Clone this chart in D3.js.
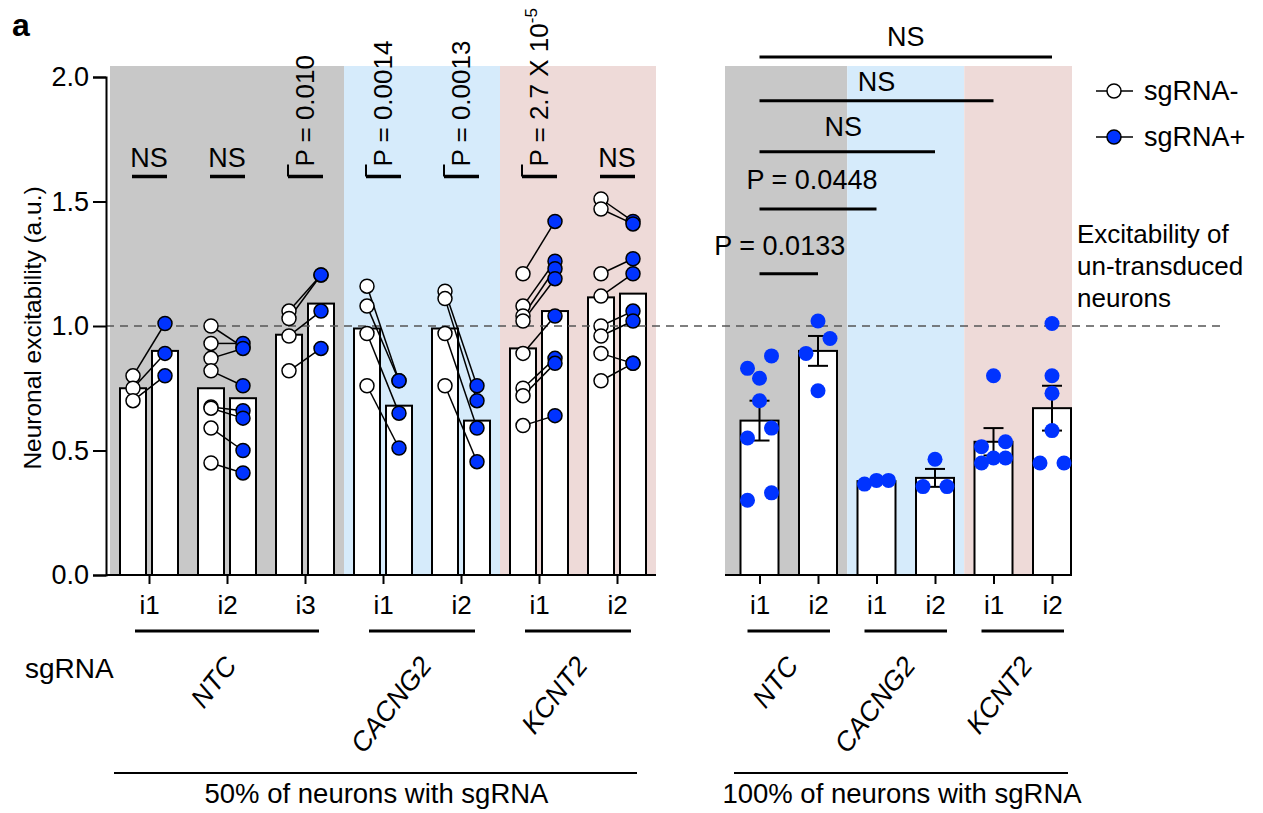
<!DOCTYPE html>
<html>
<head>
<meta charset="utf-8">
<script src="https://cdn.jsdelivr.net/npm/d3@7"></script>
<style>
  body { margin: 0; background: #fff; }
  svg { font-family: "Liberation Sans", Arial, sans-serif; }
</style>
</head>
<body>
<div class="chartBox"></div>
<script>
// ---- data ----
var leftTicks = ["i1", "i2", "i3", "i1", "i2", "i1", "i2"];
var leftGenes = ["NTC", "NTC", "NTC", "CACNG2", "CACNG2", "KCNT2", "KCNT2"];
// paired cultures: sgRNA- value and sgRNA+ value at the same index
var leftMinus = [
  [0.80, 0.75, 0.70],
  [1.00, 0.93, 0.87, 0.82, 0.675, 0.67, 0.59, 0.45],
  [1.06, 1.03, 0.96, 0.82],
  [1.16, 1.08, 0.97, 0.76],
  [1.14, 1.11, 0.97, 0.76],
  [1.21, 1.08, 1.04, 1.02, 0.89, 0.75, 0.72, 0.60],
  [1.51, 1.47, 1.21, 1.12, 1.00, 0.96, 0.89, 0.78]
];
var leftPlus = [
  [1.01, 0.89, 0.80],
  [0.915, 0.93, 0.91, 0.76, 0.66, 0.63, 0.50, 0.41],
  [1.205, 1.205, 1.06, 0.91],
  [0.78, 0.78, 0.65, 0.51],
  [0.76, 0.70, 0.59, 0.455],
  [1.42, 1.26, 1.23, 1.19, 1.04, 0.87, 0.85, 0.64],
  [1.42, 1.41, 1.27, 1.21, 1.06, 1.02, 0.85, 0.85]
];
var leftMinusMean = [0.75, 0.75, 0.965, 0.99, 0.99, 0.91, 1.115];
var leftPlusMean = [0.90, 0.71, 1.09, 0.68, 0.62, 1.06, 1.13];
var leftStats = ["NS", "NS", "P = 0.010", "P = 0.0014", "P = 0.0013", "P = 2.7 X 10^-5", "NS"];

var rightTicks = ["i1", "i2", "i1", "i2", "i1", "i2"];
var rightGenes = ["NTC", "NTC", "CACNG2", "CACNG2", "KCNT2", "KCNT2"];
var rightValues = [
  [0.88, 0.83, 0.79, 0.70, 0.59, 0.55, 0.33, 0.30],
  [1.02, 0.95, 0.89, 0.74],
  [0.38, 0.38, 0.365],
  [0.465, 0.355, 0.355],
  [0.80, 0.535, 0.515, 0.47, 0.47, 0.45],
  [1.01, 0.80, 0.73, 0.58, 0.45, 0.45]
];
var rightMean = [0.62, 0.90, 0.377, 0.39, 0.535, 0.67];
var rightSem = [0.08, 0.06, 0.005, 0.036, 0.055, 0.09];
// comparisons against NTC i1
var rightCompTo = [1, 2, 3, 4, 5];
var rightCompLabels = ["P = 0.0133", "P = 0.0448", "NS", "NS", "NS"];

var yTicks = [0, 0.5, 1.0, 1.5, 2.0];
var legendLabels = ["sgRNA-", "sgRNA+"];
var noteLines = ["Excitability of", "un-transduced", "neurons"];
var panelTitles = ["50% of neurons with sgRNA", "100% of neurons with sgRNA"];

/**
* Chart module. Draws both panels, the brackets and the legend.
**/
var Chart = (function(){
  var svg, width = 1263, height = 813;
  var blue = "#0033ff", fontSize = 27;
  var bandColor = { "NTC": "#c8c8c8", "CACNG2": "#d6ebfb", "KCNT2": "#eedad8" };
  var bandTop = 66, axisX = 106;
  var leftX0 = 110, leftX1 = 656, rightX0 = 725, rightX1 = 1072;

  var y = d3.scaleLinear().domain([0, 2]).range([575, 77]);
  var xL = d3.scalePoint().domain(d3.range(leftTicks.length)).range([149, 617]);
  var xR = d3.scalePoint().domain(d3.range(rightTicks.length)).range([759.5, 1052]);

  /**
  * Collapse runs of the same gene into {gene, first, last}
  **/
  var groupsOf = function(genes){
    var out = [];
    genes.forEach(function(g, i){
      if(out.length && out[out.length - 1].gene == g) out[out.length - 1].last = i;
      else out.push({ gene: g, first: i, last: i });
    });
    return out;
  }

  /**
  * Prism-like scatter: values within one dot of each other share a row
  * and get spread sideways around the bar centre.
  **/
  var spreadPoints = function(values, cx){
    var binPx = 16, lane = 12, bins = [], cur = null, out = [];
    values.slice().sort(d3.descending).forEach(function(v){
      if(cur && y(v) - y(cur[0]) <= binPx) cur.push(v);
      else { cur = [v]; bins.push(cur); }
    });
    bins.forEach(function(bin){
      var asc = bin.slice().sort(d3.ascending), n = asc.length;
      asc.forEach(function(v, i){
        var off = n == 2 ? (i == 0 ? -lane : lane) : (i - (n - 1) / 2) * lane;
        out.push({ v: v, x: cx + off });
      });
    });
    return out;
  }

  var drawBands = function(groups, x, x0, x1){
    groups.forEach(function(g, k){
      var a = k == 0 ? x0 : (x(g.first) + x(groups[k - 1].last)) / 2;
      var b = k == groups.length - 1 ? x1 : (x(g.last) + x(groups[k + 1].first)) / 2;
      svg.append("rect")
        .attr("x", a).attr("y", bandTop)
        .attr("width", b - a).attr("height", y(0) - bandTop)
        .attr("fill", bandColor[g.gene]);
    });
  }

  /**
  * x axis pieces under a panel: baseline, ticks, i-labels,
  * group underline and rotated gene name
  **/
  var drawBottom = function(groups, x, ticks, x0, x1, pad){
    svg.append("line")
      .attr("x1", x0).attr("x2", x1).attr("y1", y(0)).attr("y2", y(0))
      .attr("stroke", "#000").attr("stroke-width", 2);

    var axis = d3.axisBottom(x).tickSize(9).tickSizeOuter(0).tickPadding(12)
      .tickFormat(function(i){ return ticks[i]; });
    var g = svg.append("g").attr("transform", "translate(0," + y(0) + ")").call(axis);
    g.select(".domain").remove();
    g.selectAll("line").attr("stroke-width", 2);
    g.selectAll("text").attr("font-size", 26).attr("font-family", "Liberation Sans, Arial");

    groups.forEach(function(gr){
      svg.append("line")
        .attr("x1", x(gr.first) - pad).attr("x2", x(gr.last) + pad)
        .attr("y1", 631).attr("y2", 631)
        .attr("stroke", "#000").attr("stroke-width", 3);
      var mid = (x(gr.first) + x(gr.last)) / 2;
      svg.append("text")
        .attr("transform", "translate(" + (mid + 11) + ",666) rotate(-52)")
        .attr("text-anchor", "end")
        .attr("font-style", "italic")
        .attr("font-size", 27)
        .text(gr.gene);
    });
  }

  var drawLeft = function(){
    var groups = groupsOf(leftGenes);
    drawBands(groups, xL, leftX0, leftX1);

    var bw = 26;
    leftTicks.forEach(function(t, i){
      [[leftMinusMean[i], -29], [leftPlusMean[i], 3]].forEach(function(b){
        svg.append("rect")
          .attr("x", xL(i) + b[1]).attr("y", y(b[0]))
          .attr("width", bw).attr("height", y(0) - y(b[0]))
          .attr("fill", "#fff").attr("stroke", "#000").attr("stroke-width", 2);
      });
    });
    drawBottom(groups, xL, leftTicks, axisX, leftX1, 14);
  }

  var drawLeftPoints = function(){
    leftTicks.forEach(function(t, i){
      var xm = xL(i) - 16, xp = xL(i) + 16;
      var g = svg.append("g");
      g.selectAll("line.pair").data(leftMinus[i]).enter().append("line")
        .attr("x1", xm).attr("y1", function(d){ return y(d); })
        .attr("x2", xp).attr("y2", function(d, j){ return y(leftPlus[i][j]); })
        .attr("stroke", "#000").attr("stroke-width", 1.5);
      g.selectAll("circle.minus").data(leftMinus[i]).enter().append("circle")
        .attr("cx", xm).attr("cy", function(d){ return y(d); }).attr("r", 7)
        .attr("fill", "#fff").attr("stroke", "#000").attr("stroke-width", 1.5);
      g.selectAll("circle.plus").data(leftPlus[i]).enter().append("circle")
        .attr("cx", xp).attr("cy", function(d){ return y(d); }).attr("r", 7)
        .attr("fill", blue).attr("stroke", "#000").attr("stroke-width", 1.5);
    });
  }

  /**
  * Per-pair statistics above the left panel
  **/
  var drawLeftStats = function(){
    var ly = y(1.6);
    leftStats.forEach(function(s, i){
      var c = xL(i);
      svg.append("line")
        .attr("x1", c - 17).attr("x2", c + 18).attr("y1", ly).attr("y2", ly)
        .attr("stroke", "#000").attr("stroke-width", 3.5);
      if(s == "NS"){
        svg.append("text")
          .attr("x", c).attr("y", ly - 10)
          .attr("text-anchor", "middle").attr("font-size", fontSize)
          .text(s);
        return;
      }
      svg.append("line")
        .attr("x1", c - 17).attr("x2", c - 17).attr("y1", ly).attr("y2", ly - 12)
        .attr("stroke", "#000").attr("stroke-width", 2);
      var parts = s.split("^");
      var txt = svg.append("text")
        .attr("transform", "translate(" + (c + 9) + "," + (ly - 10) + ") rotate(-90)")
        .attr("font-size", 26)
        .text(parts[0]);
      if(parts[1]){
        txt.append("tspan").attr("dy", -11).attr("font-size", 17).text(parts[1]);
      }
    });
  }

  var drawRight = function(){
    var groups = groupsOf(rightGenes);
    drawBands(groups, xR, rightX0, rightX1);

    var bw = 38;
    rightTicks.forEach(function(t, i){
      var c = xR(i);
      svg.append("rect")
        .attr("x", c - bw / 2).attr("y", y(rightMean[i]))
        .attr("width", bw).attr("height", y(0) - y(rightMean[i]))
        .attr("fill", "#fff").attr("stroke", "#000").attr("stroke-width", 2);
    });
    drawBottom(groups, xR, rightTicks, rightX0, rightX1, 12);
  }

  var drawRightPoints = function(){
    var cap = 10;
    rightTicks.forEach(function(t, i){
      var c = xR(i), lo = y(rightMean[i] - rightSem[i]), hi = y(rightMean[i] + rightSem[i]);
      var eb = svg.append("g").attr("stroke", "#000").attr("stroke-width", 2);
      eb.append("line").attr("x1", c).attr("x2", c).attr("y1", lo).attr("y2", hi);
      eb.append("line").attr("x1", c - cap).attr("x2", c + cap).attr("y1", lo).attr("y2", lo);
      eb.append("line").attr("x1", c - cap).attr("x2", c + cap).attr("y1", hi).attr("y2", hi);

      svg.append("g").selectAll("circle").data(spreadPoints(rightValues[i], c))
        .enter().append("circle")
        .attr("cx", function(d){ return d.x; })
        .attr("cy", function(d){ return y(d.v); })
        .attr("r", 7.5)
        .attr("fill", blue);
    });
  }

  /**
  * Brackets comparing NTC i1 to the other right-hand bars
  **/
  var drawRightStats = function(){
    var levels = [1.21, 1.47, 1.70, 1.905, 2.08];
    var gaps = [19, 20, 16, 10, 11], shift = [-9, -6, -4, 0, 0];
    rightCompTo.forEach(function(j, k){
      var ly = y(levels[k]), a = xR(0), b = xR(j);
      svg.append("line")
        .attr("x1", a).attr("x2", b).attr("y1", ly).attr("y2", ly)
        .attr("stroke", "#000").attr("stroke-width", 3);
      svg.append("text")
        .attr("x", (a + b) / 2 + shift[k]).attr("y", ly - gaps[k])
        .attr("text-anchor", "middle").attr("font-size", fontSize)
        .text(rightCompLabels[k]);
    });
  }

  var drawAxisY = function(){
    var g = svg.append("g").attr("transform", "translate(" + axisX + ",0)")
      .call(d3.axisLeft(y).tickValues(yTicks).tickSize(13).tickPadding(4)
        .tickFormat(d3.format(".1f")));
    g.select(".domain").attr("stroke-width", 2);
    g.selectAll("line").attr("stroke-width", 2);
    g.selectAll("text").attr("font-size", 27).attr("font-family", "Liberation Sans, Arial");

    svg.append("text")
      .attr("transform", "translate(41," + ((y(0) + y(2)) / 2 + 2) + ") rotate(-90)")
      .attr("text-anchor", "middle").attr("font-size", 24.5)
      .text("Neuronal excitability (a.u.)");
  }

  var drawDecor = function(){
    svg.append("line")
      .attr("x1", axisX).attr("x2", 1225).attr("y1", y(1)).attr("y2", y(1))
      .attr("stroke", "#555").attr("stroke-width", 1.5)
      .attr("stroke-dasharray", "8,6");
  }

  var drawText = function(){
    svg.append("text").attr("x", 12).attr("y", 36)
      .attr("font-size", 32).attr("font-weight", "bold").text("a");

    svg.append("text").attr("x", 25).attr("y", 678)
      .attr("font-size", 28).text("sgRNA");

    [[114, 637], [734, 1068]].forEach(function(seg, k){
      svg.append("line")
        .attr("x1", seg[0]).attr("x2", seg[1]).attr("y1", 773).attr("y2", 773)
        .attr("stroke", "#000").attr("stroke-width", 2);
      svg.append("text")
        .attr("x", (seg[0] + seg[1]) / 2 + 1).attr("y", 803)
        .attr("text-anchor", "middle").attr("font-size", 27.5)
        .text(panelTitles[k]);
    });

    // legend
    legendLabels.forEach(function(l, k){
      var ly = 91 + k * 46;
      svg.append("line").attr("x1", 1096).attr("x2", 1133).attr("y1", ly).attr("y2", ly)
        .attr("stroke", "#000").attr("stroke-width", 1.5);
      svg.append("circle").attr("cx", 1114).attr("cy", ly).attr("r", 7)
        .attr("fill", k == 0 ? "#fff" : blue).attr("stroke", "#000").attr("stroke-width", 1.5);
      svg.append("text").attr("x", 1144).attr("y", ly + 9)
        .attr("font-size", fontSize).text(l);
    });

    noteLines.forEach(function(l, k){
      svg.append("text").attr("x", 1077).attr("y", 243 + k * 32)
        .attr("font-size", 26).text(l);
    });
  }

  var draw = function(){
    svg = d3.select(".chartBox").append("svg")
      .attr("width", width).attr("height", height);
    drawLeft();
    drawRight();
    drawDecor();
    drawLeftPoints();
    drawRightPoints();
    drawAxisY();
    drawLeftStats();
    drawRightStats();
    drawText();
  }

  return { init: draw };
})();

Chart.init();
</script>
</body>
</html>
